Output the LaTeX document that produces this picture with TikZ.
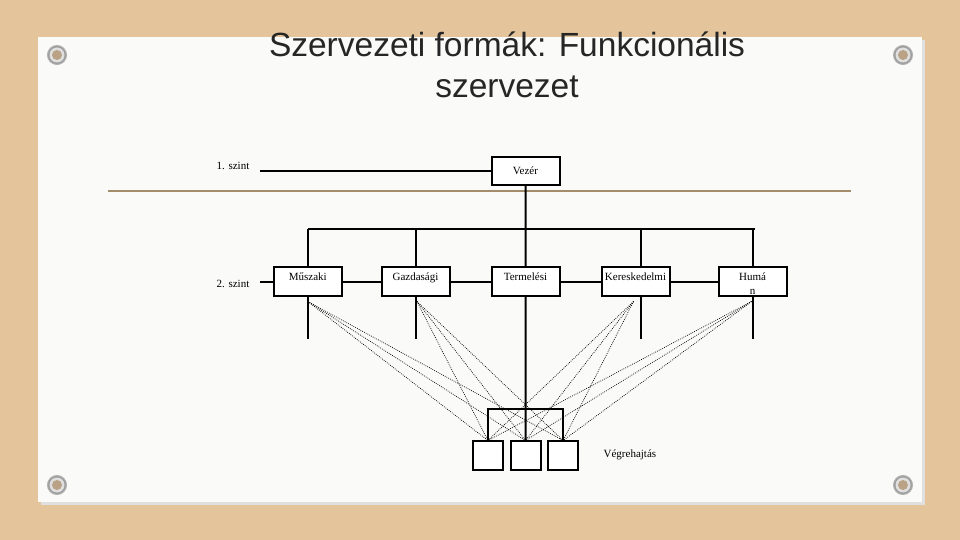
\documentclass[tikz,border=0pt]{standalone}
\usepackage{fontspec}
\setmainfont{Liberation Serif}
\newfontfamily\titlefont{Liberation Sans}
\usetikzlibrary{positioning}
\definecolor{BGTan}{HTML}{E3C49B}
\definecolor{PaperWhite}{HTML}{FAFAF9}
\definecolor{RuleTan}{HTML}{A38D6D}
\definecolor{TitleGray}{HTML}{262626}
\definecolor{ScrewGray}{HTML}{9C9C9C}
\definecolor{ScrewCore}{HTML}{B9A285}

\begin{document}
\begin{tikzpicture}[x=1bp,y=-1bp,
 orgbox/.style={draw,line width=2bp,fill=white,minimum width=68bp,inner sep=0pt,outer sep=0pt,align=center,font=\fontsize{11bp}{14bp}\selectfont},
 topbox/.style={orgbox,minimum height=28bp},
 unitbox/.style={orgbox,text height=13bp,text depth=16bp},
 execbox/.style={draw,line width=2bp,fill=white,minimum width=30bp,minimum height=29bp,inner sep=0pt,outer sep=0pt},
 lvl/.style={font=\fontsize{11bp}{13bp}\selectfont},
 orgline/.style={line width=2bp},
 crossline/.style={dash pattern=on 0.8bp off 1.2bp,line width=0.7bp},
 screw/.style={fill=ScrewGray,draw=gray!60,line width=1bp}]
\useasboundingbox (0,0) rectangle (960,540);
% board and sheet
\fill[BGTan] (0,0) rectangle (960,540);
\fill[black!12] (41,40) rectangle (925,505);
\fill[PaperWhite] (38,37) rectangle (922,502);
\foreach \sx/\sy in {57/55,903/55,57/485,903/485}{
 \filldraw[screw] (\sx,\sy) circle (9.5);
 \fill[gray!25] (\sx,\sy) circle (7.5);
 \fill[ScrewCore] (\sx,\sy) circle (5);
}
\node[font=\titlefont\fontsize{33.5bp}{41bp}\selectfont,text=TitleGray,align=center,anchor=base] (title) at (507,98) {Szervezeti formák: Funkcionális\\szervezet};
\draw[RuleTan,line width=1.8bp] (108,191) -- (851,191);

% levels
\node[lvl,anchor=base] (szint1) at (233,170) {1. szint};
\node[lvl,anchor=base] (szint2) at (233,287.3) {2. szint};
\coordinate (s1end) at (260,171);
\coordinate (s2end) at (260,282);
\coordinate (bus) at (525,229);

\node[topbox] (vezer) at (525.5,171) {Vezér};
\node[unitbox] (muszaki) at (307.8,282) {Műszaki};
\node[unitbox,right=39.7bp of muszaki] (gazdasagi) {Gazdasági};
\node[unitbox,right=42bp of gazdasagi] (termelesi) {Termelési};
\node[unitbox,right=42bp of termelesi] (keresk) {Kereskedelmi};
\node[unitbox,text height=27bp,text depth=2bp,right=49bp of keresk] (human) {Humá\\n};

\node[execbox] (vh1) at (487.9,455) {};
\node[execbox,right=7.6bp of vh1] (vh2) {};
\node[execbox,right=7.6bp of vh2] (vh3) {};
\node[lvl,right=22bp of vh3] (vegreh) {Végrehajtás};

% line organisation
\draw[orgline] (s1end) -- (vezer);
\draw[orgline] (vezer) -- (termelesi);
\draw[orgline] (muszaki.north |- bus) -- ([xshift=2bp]human.north |- bus);
\foreach \u in {muszaki,gazdasagi,human}
 \draw[orgline] (\u.north |- bus) -- (\u);
\draw[orgline] ([xshift=5bp]keresk.north |- bus) -- ([xshift=5bp]keresk.north);
\draw[orgline] (s2end) -- (muszaki);
\foreach \a/\b in {muszaki/gazdasagi,gazdasagi/termelesi,termelesi/keresk,keresk/human}
 \draw[orgline] (\a) -- (\b);
\foreach \u in {muszaki,gazdasagi,human}
 \draw[orgline] (\u.south) -- ++(0,42);
\draw[orgline] ([xshift=5bp]keresk.south) -- ++(0,42);
\draw[orgline] (termelesi) -- (vh2);
\draw[orgline] (vh1.north) -- ++(0,-32) -| (vh3.north);

% functional links
\foreach \u/\dx in {muszaki/0,gazdasagi/1.5,keresk/-2,human/-1}
 \foreach \v in {vh1,vh2,vh3}
  \draw[crossline] ([shift={(\dx,5)}]\u.south) -- (\v.north);
\end{tikzpicture}
\end{document}
